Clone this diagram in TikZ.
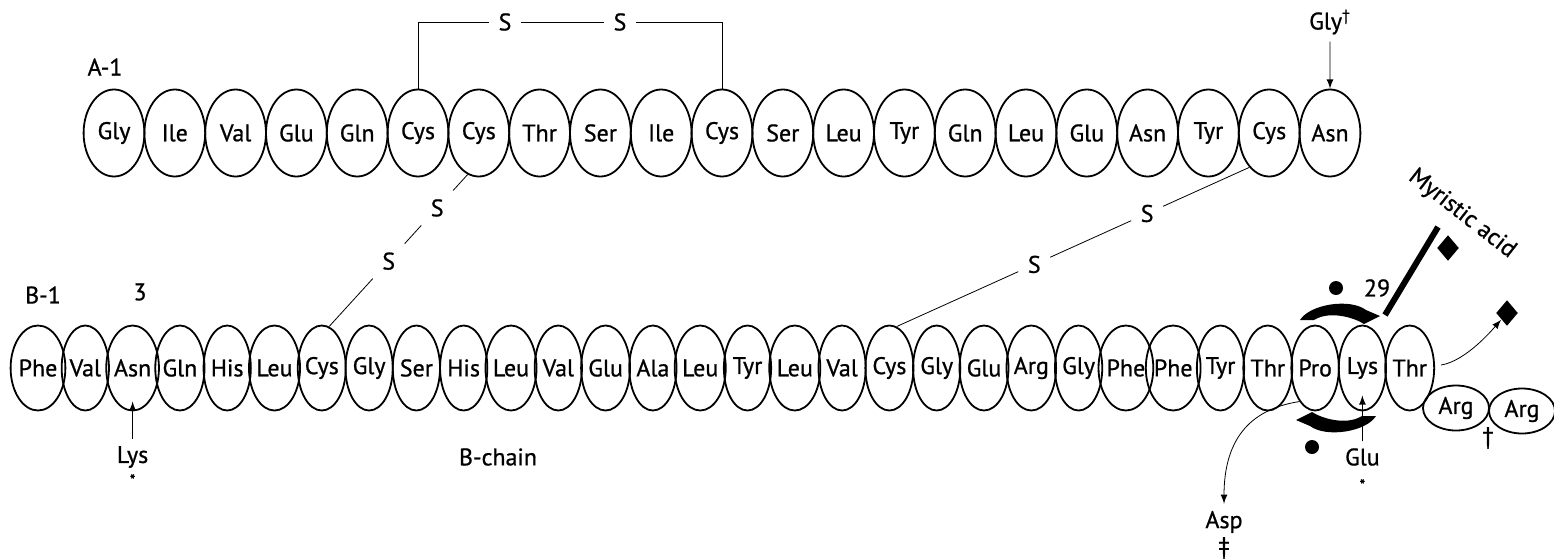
\documentclass[tikz,border=0pt]{standalone}
\usepackage{fontspec}
\setmainfont{PT Sans}[FakeBold=0.8]
\usetikzlibrary{shapes.geometric,calc}

\begin{document}
\begin{tikzpicture}[x=0.5pt,y=-0.5pt]
\tikzset{ >=latex, font=\fontsize{12}{14}\selectfont, line width=0.6pt,
  resA/.style={draw, ellipse, line width=0.9pt, inner sep=0pt, minimum width=30.4pt, minimum height=43.5pt},
  resB/.style={draw, ellipse, line width=0.9pt, inner sep=0pt, minimum width=23.65pt, minimum height=42.5pt},
  argres/.style={draw, ellipse, line width=0.9pt, inner sep=0pt, minimum width=33pt, minimum height=22.5pt},
  sulf/.style={inner sep=4.5pt},
  blob/.style={circle, fill=black, inner sep=0pt, minimum size=7pt},
  gem/.style={diamond, fill=black, inner sep=0pt, minimum width=11pt, minimum height=13pt},
  bendarr/.pic={\fill (-40,8) .. controls (-30,-8) and (10,-14) .. (26,-2) -- (40,4) -- (24,12)
      .. controls (15,6) and (-10,-2) .. (-26,8) -- cycle;},
}

\useasboundingbox (0,0) rectangle (1554,558);

% A chain
\foreach \res [count=\i] in {Gly,Ile,Val,Glu,Gln,Cys,Cys,Thr,Ser,Ile,Cys,Ser,Leu,Tyr,Gln,Leu,Glu,Asn,Tyr,Cys,Asn}
  \node [resA] (a\i) at ({114+60.8*(\i-1)},133) {\res};

% B chain
\foreach \res [count=\i] in {Phe,Val,Asn,Gln,His,Leu,Cys,Gly,Ser,His,Leu,Val,Glu,Ala,Leu,Tyr,Leu,Val,Cys,Gly,Glu,Arg,Gly,Phe,Phe,Tyr,Thr,Pro,Lys,Thr}
  \node [resB] (b\i) at ({38+47.3*(\i-1)},368) {\res};

\node [argres] (arg1) at (1456,408) {Arg};
\node [argres] (arg2) at (1522,411) {Arg};

\node (lA)    at (105,67)   {A-1};
\node (lB)    at (43,295)   {B-1};
\node (n3)    at (140,292)  {3};
\node (n29)   at (1377,288) {29};
\node (chain) at (498,457)  {B-chain};

% disulfide bridges
\node [sulf] (s1) at (505,22) {S};
\node [sulf] (s2) at (620,22) {S};
\draw (a6.north) |- (s1);
\draw (s1) -- (s2);
\draw (s2) -| (a11.north);

\node [sulf] (s3) at ($(a7.255)!0.22!(b7.80)$) {S};
\node [sulf] (s4) at ($(a7.255)!0.57!(b7.80)$) {S};
\draw (a7.255) -- (s3) -- (s4) -- (b7.80);

\node [sulf] (s5) at ($(a20.240)!0.29!(b19.80)$) {S};
\node [sulf] (s6) at ($(a20.240)!0.61!(b19.80)$) {S};
\draw (a20.240) -- (s5) -- (s6) -- (b19.80);

% substitutions
\node (gly) at (1330,22) {Gly\textsuperscript{†}};
\draw [->] (gly) -- (a21);

\node (lys) at (132.6,457) {Lys};
\node (st1) at (132.6,480) {\footnotesize *};
\draw [->, shorten >=-5pt] (lys) -- (b3);

\node (glu) at (1362.4,457) {Glu};
\node (st2) at (1362.4,485) {\footnotesize *};
\draw [->, shorten >=-8pt] (glu) -- (b29);

\node (asp)  at (1224,522) {Asp};
\node (ddag) at (1224,548) {‡};
\draw [->] (b28.245) .. controls +(-52,8) and +(0,-80) .. (asp);

\node (dag) at (1488,438) {†};

% Pro/Lys swap
\node [blob] (d1) at (1336,288) {};
\node [blob] (d2) at (1312,447) {};
\pic at (1340,312) {bendarr};
\pic [rotate=180] at (1336,424) {bendarr};

% myristic acid
\coordinate (myrA) at (1385,315);
\coordinate (myrB) at (1438,227);
\draw [line width=3pt] (myrA) -- (myrB);
\node [gem] (dia1) at (1448,248) {};
\node [gem] (dia2) at (1507,313) {};
\node [rotate=-38] (myr) at (1462,214) {Myristic acid};
\draw [->] ([shift={(6,-3)}]b30.east) .. controls +(25,-4) and +(-14,16) .. (dia2);

\end{tikzpicture}
\end{document}
